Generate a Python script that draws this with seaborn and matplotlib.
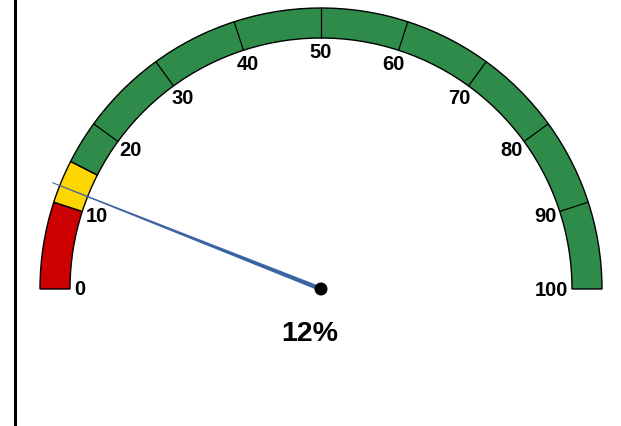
import numpy as np
import matplotlib
matplotlib.use("Agg")
import matplotlib.pyplot as plt
from matplotlib.patches import Wedge, Circle, Polygon
import seaborn as sns

# gauge data
band_starts = [0, 10, 15]
band_ends = [10, 15, 100]
band_colors = ["#cc0000", "#ffd700", "#2e8b4a"]
tick_values = [0, 10, 20, 30, 40, 50, 60, 70, 80, 90, 100]
divider_values = [20, 30, 40, 50, 60, 70, 80, 90]
needle_value = 12
value_label = "12%"

sns.set_theme(style="white")
plt.rcParams['font.family'] = ['Liberation Sans', 'DejaVu Sans']

W, H = 621, 427
fig = plt.figure(figsize=(W / 100, H / 100), dpi=100)
ax = fig.add_axes([0, 0, 1, 1])
ax.set_xlim(0, W)
ax.set_ylim(0, H)
ax.set_aspect('equal')
ax.axis('off')

cx, cy = 321, H - 290
r_out, r_in = 281, 251


def ang(v):
    return 180 - 1.8 * v


# colour bands
for s, e, c in zip(band_starts, band_ends, band_colors):
    ax.add_patch(Wedge((cx, cy), r_out, ang(e), ang(s), width=r_out - r_in,
                       facecolor=c, edgecolor='black', linewidth=1.0))

# divider lines
for v in divider_values:
    t = np.radians(ang(v))
    ax.plot([cx + r_in * np.cos(t), cx + r_out * np.cos(t)],
            [cy + r_in * np.sin(t), cy + r_out * np.sin(t)],
            color='black', linewidth=0.9)

# tick labels, kept inside the ring
r_lab = 246.5
for v in tick_values:
    t = np.radians(ang(v))
    hw = len(str(v)) * 11 / 2
    hh = 9.5
    x = cx + r_lab * np.cos(t) - np.cos(t) * hw
    y = cy + r_lab * np.sin(t) - np.sin(t) * hh
    ax.text(x, y, str(v), ha='center', va='center', fontsize=14.5,
            fontweight='bold', color='black')

# needle
t = np.radians(ang(needle_value))
L = 289
d = np.array([np.cos(t), np.sin(t)])
n = np.array([-d[1], d[0]])
base = np.array([cx, cy])
tip = base + L * d
needle = Polygon([base + 2.3 * n, tip + 0.5 * n, tip - 0.5 * n, base - 2.3 * n],
                 closed=True, facecolor='#3b64a3', edgecolor='none')
ax.add_patch(needle)
ax.add_patch(Circle((cx, cy), 6.5, facecolor='black', edgecolor='none', zorder=5))

ax.text(310, H - 334, value_label, ha='center', va='center', fontsize=20.5,
        fontweight='bold', color='black')

# left border line
ax.plot([14.5, 14.5], [0, H], color='black', linewidth=2.2)

fig.savefig("out.png", dpi=100)
